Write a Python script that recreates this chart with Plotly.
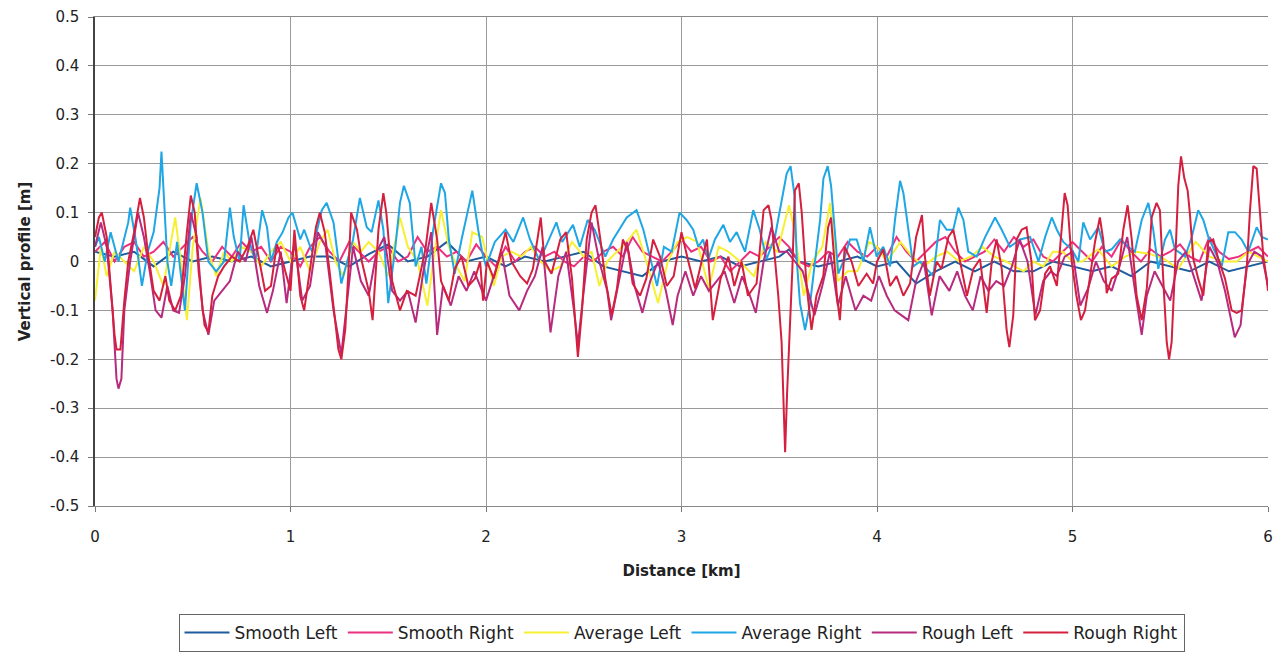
import plotly.graph_objects as go

# ---------------- data ----------------
y_ticks = [0.5, 0.4, 0.3, 0.2, 0.1, 0, -0.1, -0.2, -0.3, -0.4, -0.5]
y_tick_labels = ["0.5", "0.4", "0.3", "0.2", "0.1", "0", "-0.1", "-0.2", "-0.3", "-0.4", "-0.5"]
x_ticks = [0, 1, 2, 3, 4, 5, 6]
x_tick_labels = ["0", "1", "2", "3", "4", "5", "6"]

series_names = ["Smooth Left", "Smooth Right", "Average Left", "Average Right", "Rough Left", "Rough Right"]
series_colors = ["#1f5c9e", "#ec2f7f", "#f7f032", "#1fa6e4", "#b82a7e", "#d4203e"]

smooth_left_x = [0.0, 0.1, 0.2, 0.3, 0.4, 0.5, 0.6, 0.7, 0.8, 0.9, 1.0, 1.1, 1.2, 1.3, 1.4, 1.5, 1.6, 1.7, 1.8, 1.9,
                 2.0, 2.1, 2.2, 2.3, 2.4, 2.5, 2.6, 2.7, 2.8, 2.9, 3.0, 3.1, 3.2, 3.3, 3.4, 3.5, 3.55, 3.6, 3.7, 3.8,
                 3.9, 4.0, 4.1, 4.2, 4.3, 4.4, 4.5, 4.6, 4.7, 4.8, 4.9, 5.0, 5.1, 5.2, 5.3, 5.4, 5.5, 5.6, 5.7, 5.8,
                 5.9, 6.0]
smooth_left_y = [0.02, 0.01, 0.02, -0.01, 0.02, 0.0, 0.01, 0.0, 0.01, -0.01, 0.0, 0.01, 0.01, -0.01, 0.015, 0.035, 0.0,
                 0.01, 0.04, 0.0, 0.01, -0.01, 0.01, 0.0, 0.01, 0.02, -0.01, -0.02, -0.03, 0.0, 0.01, 0.0, 0.01, -0.01,
                 0.0, 0.01, 0.025, 0.0, -0.01, 0.0, 0.01, -0.01, 0.0, -0.045, -0.02, 0.0, -0.02, 0.0, -0.02, -0.02,
                 0.0, -0.01, -0.02, -0.01, -0.03, 0.0, -0.01, -0.02, 0.0, -0.02, -0.01, 0.0]

smooth_right_x = [0.0, 0.05, 0.1, 0.15, 0.2, 0.25, 0.3, 0.35, 0.4, 0.45, 0.5, 0.55, 0.6, 0.65, 0.7, 0.75, 0.8, 0.85,
                  0.9, 0.95, 1.0, 1.05, 1.1, 1.15, 1.2, 1.25, 1.3, 1.35, 1.4, 1.45, 1.5, 1.55, 1.6, 1.65, 1.7, 1.75,
                  1.8, 1.85, 1.9, 1.95, 2.0, 2.05, 2.1, 2.15, 2.2, 2.25, 2.3, 2.35, 2.4, 2.45, 2.5, 2.55, 2.6, 2.65,
                  2.7, 2.75, 2.8, 2.85, 2.9, 2.95, 3.0, 3.05, 3.1, 3.15, 3.2, 3.25, 3.3, 3.35, 3.4, 3.45, 3.5, 3.55,
                  3.6, 3.65, 3.7, 3.75, 3.8, 3.85, 3.9, 3.95, 4.0, 4.05, 4.1, 4.15, 4.2, 4.25, 4.3, 4.35, 4.4, 4.45,
                  4.5, 4.55, 4.6, 4.65, 4.7, 4.75, 4.8, 4.85, 4.9, 4.95, 5.0, 5.05, 5.1, 5.15, 5.2, 5.25, 5.3, 5.35,
                  5.4, 5.45, 5.5, 5.55, 5.6, 5.65, 5.7, 5.75, 5.8, 5.85, 5.9, 5.95, 6.0]
smooth_right_y = [0.02, 0.04, 0.0, 0.03, 0.04, 0.01, 0.02, 0.04, 0.01, 0.03, 0.05, 0.02, 0.0, 0.03, 0.01, 0.04, 0.02,
                  0.03, 0.0, 0.03, 0.02, -0.01, 0.03, 0.05, 0.02, 0.0, 0.04, 0.02, 0.0, 0.02, 0.03, 0.0, 0.01, 0.05,
                  0.02, 0.03, 0.01, 0.02, 0.0, 0.035, 0.01, -0.01, 0.03, 0.0, 0.02, 0.03, 0.01, 0.02, 0.0, -0.01, 0.01,
                  0.0, 0.02, 0.03, 0.01, 0.05, 0.02, 0.01, 0.0, 0.02, 0.045, 0.02, 0.03, 0.0, 0.01, -0.02, 0.0, 0.02,
                  0.01, 0.03, 0.05, 0.03, 0.0, -0.01, 0.0, 0.02, 0.01, 0.04, 0.02, 0.01, 0.03, 0.01, 0.05, 0.02, 0.0,
                  0.02, 0.04, 0.05, 0.02, 0.0, 0.01, 0.02, 0.045, 0.02, 0.05, 0.03, 0.045, 0.01, 0.0, 0.02, 0.04,
                  0.02, 0.0, 0.03, 0.01, 0.045, 0.02, 0.0, 0.025, 0.01, 0.02, 0.035, 0.01, 0.0, 0.05, 0.02, 0.005,
                  0.01, 0.02, 0.03, 0.01]

average_left_x = [0.0, 0.03, 0.06, 0.1, 0.15, 0.2, 0.25, 0.3, 0.35, 0.41, 0.44, 0.47, 0.5, 0.54, 0.58, 0.62, 0.66,
                  0.7, 0.75, 0.8, 0.85, 0.9, 0.95, 1.0, 1.05, 1.1, 1.15, 1.19, 1.23, 1.27, 1.32, 1.36, 1.4, 1.45,
                  1.5, 1.56, 1.6, 1.65, 1.7, 1.73, 1.77, 1.81, 1.85, 1.89, 1.93, 1.98, 2.04, 2.08, 2.13, 2.18, 2.23,
                  2.28, 2.33, 2.38, 2.44, 2.5, 2.54, 2.58, 2.62, 2.67, 2.72, 2.77, 2.82, 2.88, 2.93, 2.98, 3.03, 3.08,
                  3.14, 3.19, 3.24, 3.3, 3.37, 3.43, 3.49, 3.55, 3.58, 3.625, 3.67, 3.72, 3.76, 3.8, 3.85, 3.9, 3.96,
                  4.0, 4.05, 4.12, 4.18, 4.24, 4.3, 4.36, 4.42, 4.48, 4.54, 4.6, 4.66, 4.75, 4.8, 4.85, 4.9, 4.95,
                  5.0, 5.05, 5.13, 5.2, 5.27, 5.33, 5.4, 5.47, 5.54, 5.63, 5.7, 5.78, 5.84, 5.9, 5.95, 6.0]
average_left_y = [-0.08, 0.03, -0.03, 0.02, 0.0, -0.02, 0.03, 0.0, -0.05, 0.09, 0.0, -0.12, 0.03, 0.13, 0.02, -0.03,
                  0.02, 0.0, 0.03, 0.02, -0.01, 0.02, 0.04, 0.0, 0.03, -0.02, 0.04, 0.065, 0.0, -0.03, 0.04, 0.02,
                  0.04, 0.02, -0.03, 0.09, 0.03, 0.0, -0.09, 0.0, 0.105, 0.03, -0.01, -0.04, 0.06, 0.05, -0.05, 0.01,
                  0.02, 0.01, 0.03, 0.0, -0.02, -0.01, 0.04, 0.01, 0.02, -0.05, 0.0, 0.02, 0.04, 0.065, 0.0, -0.085,
                  0.0, 0.04, 0.05, 0.04, -0.055, 0.03, 0.02, 0.0, -0.03, 0.04, 0.02, 0.115, 0.06, -0.07, 0.0, 0.03,
                  0.12, -0.04, -0.02, -0.02, 0.04, 0.03, 0.0, 0.04, 0.01, -0.01, 0.01, 0.02, 0.0, 0.01, 0.03, 0.01,
                  0.0, -0.02, 0.0, -0.01, 0.02, 0.02, 0.0, 0.0, 0.025, -0.01, 0.01, 0.02, 0.015, 0.005, -0.015, 0.04,
                  0.01, 0.0, 0.0, 0.02, 0.01, 0.0]

average_right_x = [0.0, 0.02, 0.05, 0.08, 0.12, 0.17, 0.18, 0.21, 0.24, 0.27, 0.3, 0.33, 0.34, 0.355, 0.37, 0.39,
                   0.42, 0.46, 0.49, 0.52, 0.55, 0.58, 0.62, 0.66, 0.69, 0.71, 0.74, 0.76, 0.79, 0.82, 0.855, 0.88,
                   0.9, 0.93, 0.96, 0.99, 1.01, 1.05, 1.07, 1.11, 1.16, 1.185, 1.22, 1.26, 1.295, 1.32, 1.355, 1.39,
                   1.415, 1.45, 1.475, 1.5, 1.535, 1.56, 1.58, 1.61, 1.64, 1.67, 1.695, 1.73, 1.77, 1.79, 1.81, 1.84,
                   1.875, 1.9, 1.93, 1.96, 1.98, 2.0, 2.045, 2.1, 2.14, 2.19, 2.225, 2.27, 2.3, 2.36, 2.39, 2.445,
                   2.48, 2.52, 2.556, 2.61, 2.65, 2.72, 2.77, 2.805, 2.84, 2.875, 2.91, 2.95, 2.99, 3.026, 3.06,
                   3.086, 3.11, 3.137, 3.171, 3.214, 3.248, 3.282, 3.325, 3.367, 3.4, 3.435, 3.478, 3.512, 3.538,
                   3.558, 3.578, 3.59, 3.606, 3.632, 3.658, 3.683, 3.709, 3.726, 3.748, 3.765, 3.782, 3.802, 3.828,
                   3.862, 3.896, 3.93, 3.964, 3.998, 4.032, 4.067, 4.092, 4.118, 4.135, 4.16, 4.186, 4.22, 4.254,
                   4.288, 4.322, 4.356, 4.39, 4.416, 4.442, 4.467, 4.51, 4.553, 4.604, 4.638, 4.68, 4.731, 4.783,
                   4.826, 4.86, 4.894, 4.92, 4.953, 4.996, 5.03, 5.055, 5.09, 5.132, 5.166, 5.2, 5.243, 5.285, 5.319,
                   5.354, 5.388, 5.413, 5.439, 5.473, 5.499, 5.524, 5.576, 5.61, 5.643, 5.669, 5.695, 5.729, 5.763,
                   5.797, 5.831, 5.865, 5.899, 5.942, 5.968, 6.0]
average_right_y = [0.03, 0.05, 0.0, 0.06, 0.0, 0.08, 0.11, 0.04, -0.05, 0.02, 0.06, 0.15, 0.225, 0.1, 0.0, -0.05,
                   0.04, -0.1, 0.08, 0.16, 0.1, 0.0, -0.02, 0.0, 0.11, 0.05, 0.0, 0.115, 0.04, 0.0, 0.105, 0.07, 0.0,
                   0.04, 0.06, 0.09, 0.1, 0.045, 0.065, 0.02, 0.105, 0.12, 0.08, -0.045, 0.01, 0.045, 0.13, 0.07,
                   0.06, 0.125, 0.065, -0.085, 0.025, 0.12, 0.155, 0.12, -0.01, 0.03, -0.045, 0.065, 0.16, 0.14,
                   0.045, -0.025, 0.045, 0.09, 0.145, 0.065, 0.02, -0.01, 0.04, 0.065, 0.04, 0.09, 0.045, 0.005,
                   0.025, 0.08, 0.04, 0.075, 0.03, 0.085, 0.065, 0.01, 0.045, 0.09, 0.105, 0.065, 0.01, -0.05, 0.03,
                   0.02, 0.1, 0.085, 0.065, 0.03, 0.045, 0.005, 0.045, 0.075, 0.04, 0.06, 0.02, 0.105, 0.065, 0.005,
                   0.05, 0.12, 0.18, 0.195, 0.135, 0.0, -0.085, -0.14, -0.085, 0.0, 0.085, 0.17, 0.195, 0.155, 0.065,
                   -0.025, 0.0, 0.045, 0.045, 0.0, 0.07, 0.01, 0.03, -0.01, 0.085, 0.165, 0.14, 0.065, -0.01, 0.0,
                   -0.015, -0.03, 0.085, 0.065, 0.065, 0.11, 0.085, 0.02, 0.01, 0.05, 0.09, 0.065, 0.03, 0.045, 0.05,
                   0.0, 0.05, 0.09, 0.065, 0.04, 0.025, 0.0, 0.08, 0.045, 0.07, 0.02, 0.025, 0.045, 0.03, 0.02, 0.085,
                   0.12, 0.065, -0.015, 0.045, 0.065, 0.025, 0.01, 0.05, 0.105, 0.085, 0.05, 0.02, -0.01, 0.06, 0.06,
                   0.045, 0.02, 0.07, 0.05, 0.045]

rough_left_x = [0.0, 0.03, 0.06, 0.09, 0.11, 0.12, 0.135, 0.15, 0.18, 0.22, 0.25, 0.28, 0.31, 0.34, 0.37, 0.4, 0.43,
                0.46, 0.49, 0.52, 0.55, 0.58, 0.61, 0.65, 0.69, 0.73, 0.77, 0.8, 0.84, 0.88, 0.91, 0.95, 0.98, 1.02,
                1.06, 1.1, 1.14, 1.18, 1.22, 1.26, 1.29, 1.32, 1.36, 1.4, 1.44, 1.48, 1.52, 1.56, 1.6, 1.64, 1.68,
                1.72, 1.75, 1.78, 1.82, 1.86, 1.9, 1.94, 1.98, 2.0, 2.04, 2.08, 2.12, 2.17, 2.21, 2.25, 2.29, 2.33,
                2.37, 2.41, 2.45, 2.47, 2.5, 2.54, 2.58, 2.62, 2.64, 2.68, 2.72, 2.76, 2.8, 2.84, 2.88, 2.92, 2.955,
                2.98, 3.02, 3.06, 3.1, 3.14, 3.18, 3.22, 3.27, 3.31, 3.35, 3.38, 3.42, 3.46, 3.5, 3.54, 3.58, 3.62,
                3.68, 3.72, 3.76, 3.8, 3.84, 3.89, 3.93, 3.97, 4.01, 4.05, 4.09, 4.16, 4.2, 4.24, 4.28, 4.32, 4.37,
                4.41, 4.45, 4.49, 4.53, 4.57, 4.61, 4.65, 4.69, 4.73, 4.77, 4.81, 4.85, 4.89, 4.92, 4.96, 5.0, 5.04,
                5.08, 5.12, 5.16, 5.2, 5.24, 5.28, 5.32, 5.354, 5.38, 5.42, 5.46, 5.5, 5.54, 5.58, 5.62, 5.66, 5.7,
                5.74, 5.78, 5.83, 5.86, 5.89, 5.93, 5.97, 6.0]
rough_left_y = [0.03, 0.08, 0.03, -0.1, -0.24, -0.26, -0.24, -0.1, 0.0, 0.1, 0.05, -0.02, -0.1, -0.115, -0.05, -0.1,
                -0.105, -0.03, 0.1, 0.05, -0.1, -0.15, -0.08, -0.06, -0.04, 0.02, 0.0, 0.05, -0.05, -0.105, -0.06,
                0.02, -0.085, 0.04, -0.08, -0.05, 0.06, 0.03, -0.1, -0.19, -0.08, 0.03, -0.04, -0.07, 0.02, 0.05,
                -0.06, -0.08, -0.06, -0.125, -0.02, 0.06, -0.15, -0.05, -0.09, -0.03, -0.06, -0.02, -0.06, -0.08,
                -0.03, 0.02, -0.07, -0.1, -0.06, -0.03, 0.03, -0.145, -0.03, 0.02, -0.1, -0.17, -0.06, 0.08, 0.0,
                -0.06, -0.12, -0.04, 0.04, -0.05, -0.105, -0.04, 0.0, -0.06, -0.13, -0.07, -0.02, -0.07, -0.03,
                -0.06, -0.04, -0.02, -0.085, -0.03, -0.07, -0.105, 0.0, 0.07, 0.02, 0.02, 0.0, -0.02, -0.11, -0.05,
                0.02, -0.09, -0.03, -0.1, -0.07, -0.08, -0.03, -0.07, -0.1, -0.12, -0.04, 0.0, -0.11, -0.03, -0.06,
                -0.02, -0.07, -0.1, -0.03, -0.06, -0.04, -0.05, -0.01, 0.045, 0.0, -0.11, -0.04, -0.02, -0.03, 0.01,
                0.02, -0.09, -0.055, 0.0, -0.04, -0.06, -0.01, 0.05, -0.06, -0.15, -0.07, -0.02, -0.05, -0.08, 0.0,
                0.02, -0.03, -0.08, 0.03, 0.0, -0.06, -0.155, -0.13, -0.01, 0.02, 0.01, -0.05]

rough_right_x = [0.0, 0.02, 0.035, 0.06, 0.08, 0.1, 0.11, 0.13, 0.15, 0.17, 0.2, 0.23, 0.25, 0.27, 0.3, 0.33, 0.36,
                 0.38, 0.41, 0.44, 0.47, 0.49, 0.51, 0.53, 0.56, 0.58, 0.6, 0.63, 0.66, 0.7, 0.74, 0.78, 0.81, 0.84,
                 0.87, 0.9, 0.93, 0.96, 1.0, 1.02, 1.05, 1.07, 1.1, 1.13, 1.15, 1.175, 1.2, 1.23, 1.245, 1.26, 1.28,
                 1.295, 1.31, 1.34, 1.365, 1.4, 1.42, 1.45, 1.475, 1.49, 1.52, 1.56, 1.595, 1.64, 1.69, 1.72, 1.75,
                 1.77, 1.81, 1.84, 1.875, 1.91, 1.944, 1.97, 1.985, 2.005, 2.04, 2.1, 2.13, 2.175, 2.21, 2.24, 2.28,
                 2.3, 2.335, 2.38, 2.41, 2.44, 2.46, 2.47, 2.49, 2.515, 2.54, 2.56, 2.585, 2.61, 2.643, 2.67, 2.7,
                 2.728, 2.75, 2.788, 2.82, 2.855, 2.89, 2.925, 2.96, 3.0, 3.035, 3.07, 3.13, 3.16, 3.2, 3.24, 3.27,
                 3.307, 3.34, 3.384, 3.42, 3.445, 3.46, 3.478, 3.495, 3.512, 3.52, 3.53, 3.54, 3.555, 3.567, 3.58,
                 3.6, 3.615, 3.64, 3.665, 3.69, 3.725, 3.75, 3.765, 3.776, 3.795, 3.81, 3.835, 3.87, 3.905, 3.947,
                 3.98, 4.0, 4.032, 4.067, 4.1, 4.135, 4.169, 4.2, 4.23, 4.245, 4.27, 4.305, 4.33, 4.365, 4.39, 4.425,
                 4.46, 4.493, 4.527, 4.561, 4.587, 4.612, 4.638, 4.663, 4.677, 4.697, 4.714, 4.74, 4.765, 4.79,
                 4.808, 4.834, 4.86, 4.885, 4.92, 4.96, 4.975, 4.996, 5.02, 5.043, 5.064, 5.09, 5.115, 5.14, 5.157,
                 5.175, 5.2, 5.234, 5.26, 5.282, 5.303, 5.328, 5.354, 5.38, 5.405, 5.43, 5.447, 5.464, 5.482, 5.494,
                 5.507, 5.524, 5.541, 5.555, 5.572, 5.589, 5.6, 5.618, 5.643, 5.669, 5.695, 5.72, 5.746, 5.78, 5.814,
                 5.84, 5.865, 5.891, 5.908, 5.925, 5.942, 5.959, 5.976, 5.993, 6.0]
rough_right_y = [0.05, 0.09, 0.1, 0.05, -0.05, -0.15, -0.18, -0.18, -0.08, 0.0, 0.06, 0.13, 0.09, 0.02, -0.06, -0.08,
                 -0.03, -0.08, -0.1, -0.07, 0.06, 0.135, 0.1, -0.02, -0.13, -0.145, -0.07, -0.03, -0.01, 0.01, 0.0,
                 0.03, 0.065, 0.0, -0.06, -0.05, 0.035, 0.0, -0.06, 0.065, -0.07, -0.1, -0.02, 0.07, 0.1, 0.06,
                 -0.02, -0.125, -0.18, -0.2, -0.14, -0.03, 0.1, 0.065, 0.0, -0.06, -0.12, 0.065, 0.14, 0.1, -0.04,
                 -0.1, -0.06, -0.07, 0.025, 0.12, 0.045, -0.04, -0.08, -0.015, 0.01, -0.05, -0.035, 0.0, -0.08, 0.0,
                 -0.035, 0.06, 0.0, -0.03, -0.045, -0.015, 0.09, 0.0, -0.025, 0.045, 0.06, -0.035, -0.14, -0.195,
                 -0.105, 0.045, 0.1, 0.115, 0.045, -0.035, -0.11, -0.055, 0.045, 0.02, -0.045, -0.07, -0.035, 0.045,
                 0.01, -0.05, -0.03, 0.06, 0.0, -0.055, 0.045, -0.12, -0.035, 0.01, -0.05, 0.0, -0.07, -0.045, 0.105,
                 0.115, 0.085, 0.01, -0.07, -0.165, -0.27, -0.39, -0.27, -0.14, -0.015, 0.145, 0.16, 0.1, -0.05,
                 -0.14, -0.07, -0.03, 0.07, 0.09, 0.03, -0.07, -0.12, 0.03, 0.0, -0.05, -0.025, -0.045, 0.0, 0.025,
                 -0.05, -0.03, -0.07, -0.045, 0.05, 0.095, 0.01, -0.07, 0.0, -0.015, 0.05, 0.065, 0.0, -0.07, -0.015,
                 0.005, -0.105, 0.0, 0.045, -0.015, -0.14, -0.175, -0.11, 0.045, 0.065, 0.07, 0.0, -0.12, -0.1,
                 -0.025, -0.01, -0.05, 0.14, 0.115, 0.0, -0.07, -0.12, -0.1, -0.03, 0.04, 0.09, 0.045, -0.065,
                 -0.035, -0.025, 0.065, 0.115, 0.045, -0.07, -0.12, -0.055, 0.09, 0.12, 0.105, -0.035, -0.165, -0.2,
                 -0.165, -0.015, 0.155, 0.215, 0.17, 0.145, 0.1, 0.005, -0.035, -0.07, 0.04, 0.045, 0.005, -0.035,
                 -0.1, -0.105, -0.1, -0.015, 0.105, 0.195, 0.19, 0.1, 0.01, -0.035, -0.06]

series_x = [smooth_left_x, smooth_right_x, average_left_x, average_right_x, rough_left_x, rough_right_x]
series_y = [smooth_left_y, smooth_right_y, average_left_y, average_right_y, rough_left_y, rough_right_y]

# ---------------- figure ----------------
FONT = "DejaVu Sans, Verdana, sans-serif"
fig = go.Figure()
for name, color, xs, ys in zip(series_names, series_colors, series_x, series_y):
    fig.add_trace(go.Scatter(x=xs, y=ys, mode="lines", name=name,
                             line=dict(color=color, width=2)))

fig.update_layout(
    width=1278, height=652,
    margin=dict(l=95, r=10, t=17, b=146, autoexpand=False),
    paper_bgcolor="white", plot_bgcolor="white",
    font=dict(family=FONT, size=15, color="#222"),
    showlegend=True,
    legend=dict(orientation="h", x=0.5, xanchor="center",
                yref="container", y=1 - 614 / 652, yanchor="top",
                bordercolor="#666", borderwidth=1, font=dict(size=17, color="#222"),
                itemwidth=45, tracegroupgap=0),
)
fig.update_xaxes(
    range=[0, 6], tickvals=x_ticks, ticktext=x_tick_labels,
    showgrid=True, gridcolor="#9a9a9a", gridwidth=1,
    showline=True, linecolor="#888", linewidth=1, mirror=True,
    ticks="outside", ticklen=5, tickcolor="#777", ticklabelstandoff=12,
    zeroline=False,
    title=dict(text="<b>Distance [km]</b>", font=dict(size=15, color="#222"), standoff=20),
    tickfont=dict(size=15),
)
fig.update_yaxes(
    range=[-0.5, 0.5], tickvals=y_ticks, ticktext=y_tick_labels,
    showgrid=True, gridcolor="#9a9a9a", gridwidth=1,
    showline=True, linecolor="#444", linewidth=1.5, mirror=False,
    ticks="outside", ticklen=5, tickcolor="#777", ticklabelstandoff=6,
    zeroline=False,
    title=dict(text="<b>Vertical profile [m]</b>", font=dict(size=15, color="#222"), standoff=16),
    tickfont=dict(size=15),
)
fig.write_html("out.html")
